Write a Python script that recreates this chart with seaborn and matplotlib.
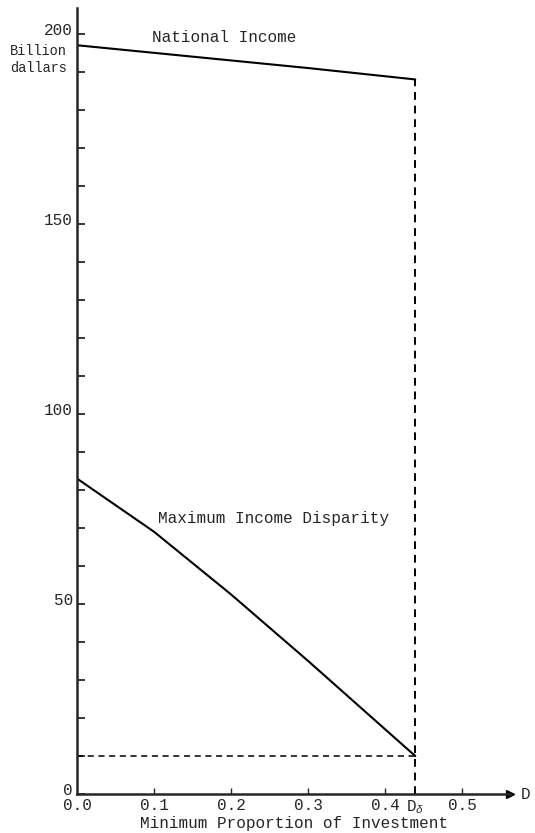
import matplotlib
matplotlib.use("Agg")
import matplotlib.pyplot as plt
import matplotlib.transforms as mtransforms
import seaborn as sns
import pandas as pd

# Minimum proportion of investment (D) and the two outcome curves
d_values = [0.0, 0.1, 0.2, 0.3, 0.439]
national_income = [197, 195, 193, 191, 188]
max_disparity = [83, 69, 52.5, 35, 10]
d_feasible = 0.439
disparity_floor = 10

x_ticks = [0.0, 0.1, 0.2, 0.3, 0.4, 0.439, 0.5]
x_tick_labels = ["0.0", "0.1", "0.2", "0.3", "0.4", "D$_\\delta$", "0.5"]
y_major = [0, 50, 100, 150, 200]
y_minor = [10, 20, 30, 40, 60, 70, 80, 90, 110, 120, 130, 140, 160, 170, 180, 190]

sns.set_style("ticks")
plt.rcParams["font.family"] = ["Liberation Mono", "DejaVu Sans Mono"]
plt.rcParams["mathtext.fontset"] = "custom"
plt.rcParams["mathtext.rm"] = "Liberation Mono"
plt.rcParams["mathtext.it"] = "Liberation Mono:italic"

df = pd.DataFrame({
    "D": d_values * 2,
    "value": national_income + max_disparity,
    "series": ["National Income"] * len(d_values) + ["Maximum Income Disparity"] * len(d_values),
})

fig = plt.figure(figsize=(5.35, 8.33), dpi=100)
ax = fig.add_axes([0.1439, 0.0468, 0.9533 - 0.1439, 0.9904 - 0.0468])

sns.lineplot(data=df, x="D", y="value", units="series", estimator=None,
             color="black", lw=1.5, ax=ax, legend=False)

# Dashed guides at the feasible limit
ax.plot([d_feasible, d_feasible], [0, national_income[-1]], color="black",
        lw=1.4, ls=(0, (4, 3)))
ax.plot([0, d_feasible], [disparity_floor, disparity_floor], color="black",
        lw=1.1, ls=(0, (4, 3)))

ax.set_xlim(0, 0.562)
ax.set_ylim(0, 206.8)

for s in ["top", "right"]:
    ax.spines[s].set_visible(False)
ax.spines["left"].set_linewidth(1.8)
ax.spines["bottom"].set_linewidth(1.8)

# Arrowhead at the end of the D axis
ax.plot(1, 0, marker=">", color="black", markersize=6, clip_on=False,
        transform=ax.transAxes)

ax.set_yticks(y_major)
ax.set_yticklabels([str(v) for v in y_major])
ax.set_yticks(y_minor, minor=True)
ax.set_xticks(x_ticks)
ax.set_xticklabels(x_tick_labels)
ax.tick_params(axis="y", which="both", direction="in", length=6, width=1.3,
               labelsize=11.5, pad=3)
ax.tick_params(axis="x", which="both", direction="in", length=4, width=1.0,
               labelsize=11.5, pad=3)
# no tick marks at the origin or at D_delta (the dashed line marks it)
ax.xaxis.get_major_ticks()[0].tick1line.set_visible(False)
ax.xaxis.get_major_ticks()[5].tick1line.set_visible(False)

# y labels sit a little above their ticks
lift = mtransforms.ScaledTranslation(0, 0.05, fig.dpi_scale_trans)
for lbl in ax.get_yticklabels():
    lbl.set_transform(lbl.get_transform() + lift)

ax.set_xlabel("Minimum Proportion of Investment", fontsize=11.5, labelpad=0)
ax.set_ylabel("")

ax.text(0.582, 0, "D", ha="center", va="center", fontsize=11.5, clip_on=False)
fig.text(10 / 535, 1 - 59.5 / 833, "Billion\ndallars", ha="left", va="center",
         fontsize=9.8, linespacing=1.3)

ax.text(0.097, 199, "National Income", ha="left", va="center", fontsize=11.5)
ax.text(0.105, 72.6, "Maximum Income Disparity", ha="left", va="center",
        fontsize=11.5)

fig.savefig("out.png", dpi=100)
